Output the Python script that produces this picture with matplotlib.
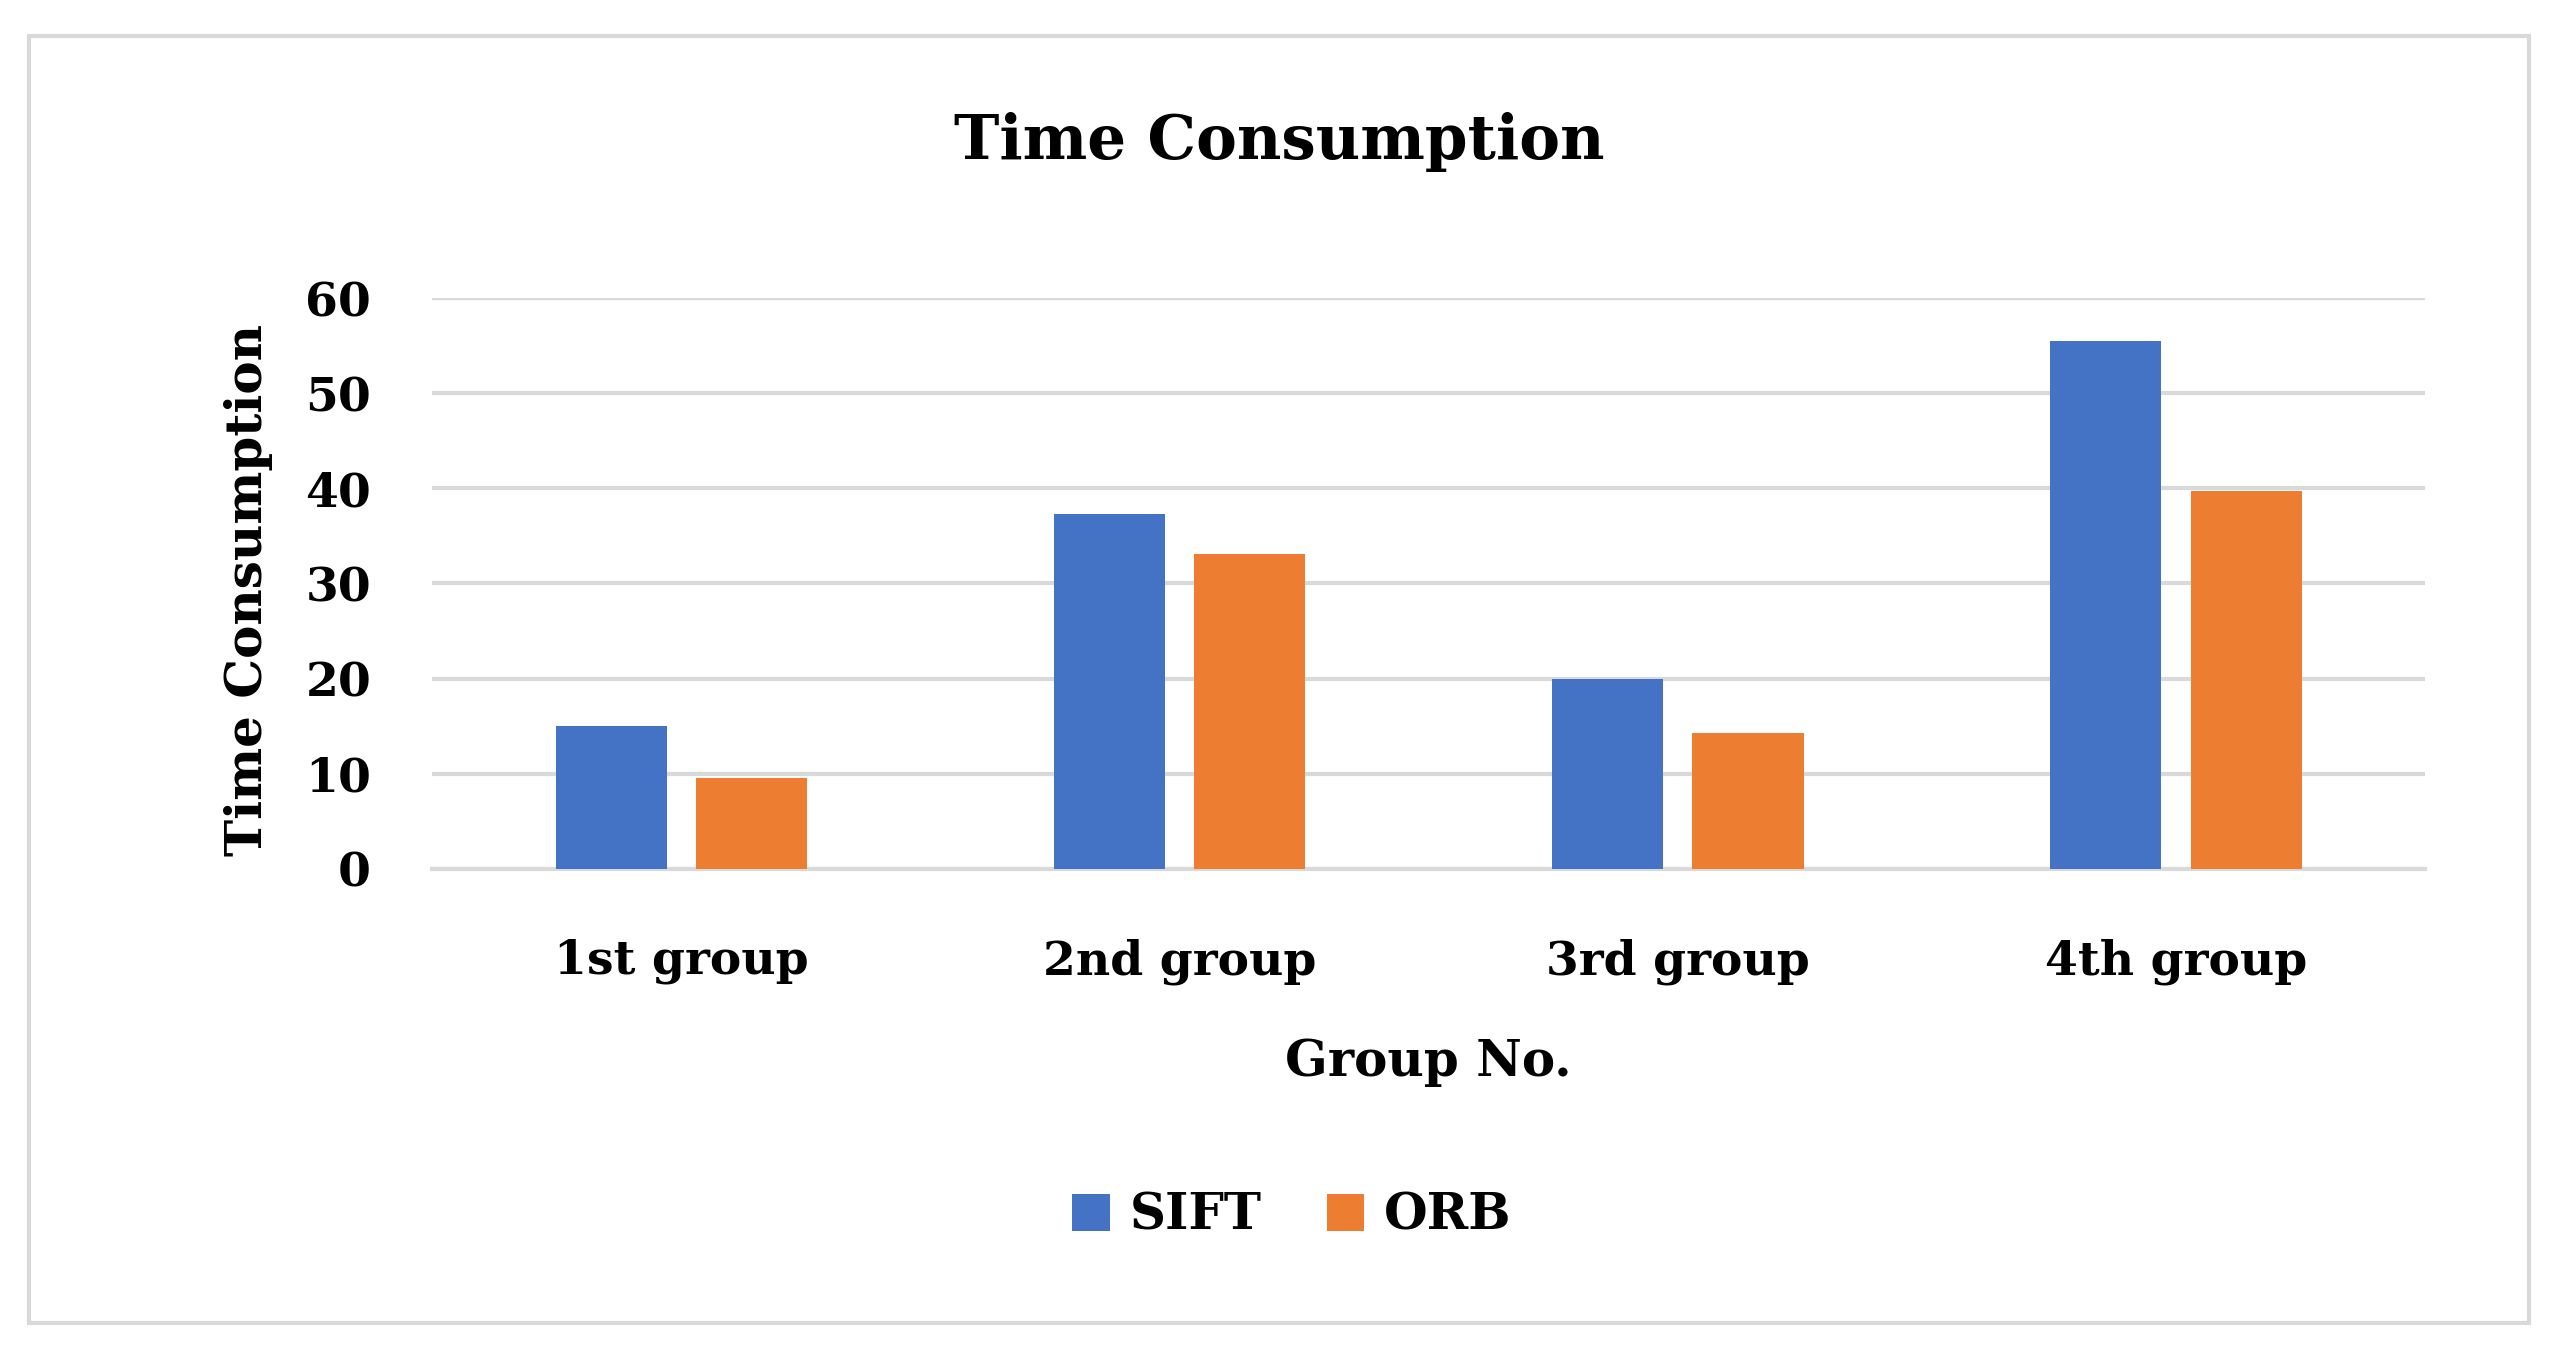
import numpy as np
import matplotlib
matplotlib.use('Agg')
import matplotlib.pyplot as plt
from matplotlib.patches import Rectangle

# data
groups = ['1st group', '2nd group', '3rd group', '4th group']
sift = [15.0, 37.3, 20.0, 55.5]
orb = [9.5, 33.1, 14.3, 39.7]
yticks = [0, 10, 20, 30, 40, 50, 60]

blue = '#4472C4'
orange = '#ED7D31'
grid_col = '#D9D9D9'

plt.rcParams['font.family'] = ['DejaVu Serif']
plt.rcParams['font.weight'] = 'bold'

fig = plt.figure(figsize=(12.79, 6.765), dpi=200)
ax = fig.add_axes([0.169, 0.358, 0.779, 0.4215])

x = np.arange(len(groups))
w = 0.223
off = 0.141
ax.bar(x - off, sift, w, color=blue, label='SIFT', zorder=3)
ax.bar(x + off, orb, w, color=orange, label='ORB', zorder=3)

ax.set_xlim(-0.5, 3.5)
ax.set_ylim(0, 60)
ax.set_yticks(yticks)
ax.set_xticks(x)
ax.set_xticklabels(groups)
ax.yaxis.grid(True, color=grid_col, linewidth=1.5, zorder=0)
ax.set_axisbelow(True)
for s in ['top', 'right', 'left']:
    ax.spines[s].set_visible(False)
ax.spines['bottom'].set_color(grid_col)
ax.spines['bottom'].set_linewidth(1.5)
ax.tick_params(axis='y', length=0, pad=22, labelsize=17)
ax.tick_params(axis='x', length=0, pad=25, labelsize=17)
for t in ax.get_xticklabels() + ax.get_yticklabels():
    t.set_fontweight('bold')

fig.text(0.5, 0.895, 'Time Consumption', ha='center', va='center',
         fontsize=22, fontweight='bold')
fig.text(0.097, 0.564, 'Time Consumption', ha='center', va='center',
         rotation=90, fontsize=18, fontweight='bold')
fig.text(0.5585, 0.2145, 'Group No.', ha='center', va='center',
         fontsize=18, fontweight='bold')

fig.legend(loc='center', bbox_to_anchor=(0.505, 0.101), ncol=2, frameon=False,
           handlelength=0.75, handleheight=0.75, handletextpad=0.4,
           columnspacing=1.3, prop={'size': 18, 'weight': 'bold'})

# light grey outer border
fig.patches.append(Rectangle((0.0115, 0.022), 0.977, 0.9515, transform=fig.transFigure,
                             fill=False, edgecolor=grid_col, linewidth=1.5))

fig.savefig('out.png', dpi=200)
